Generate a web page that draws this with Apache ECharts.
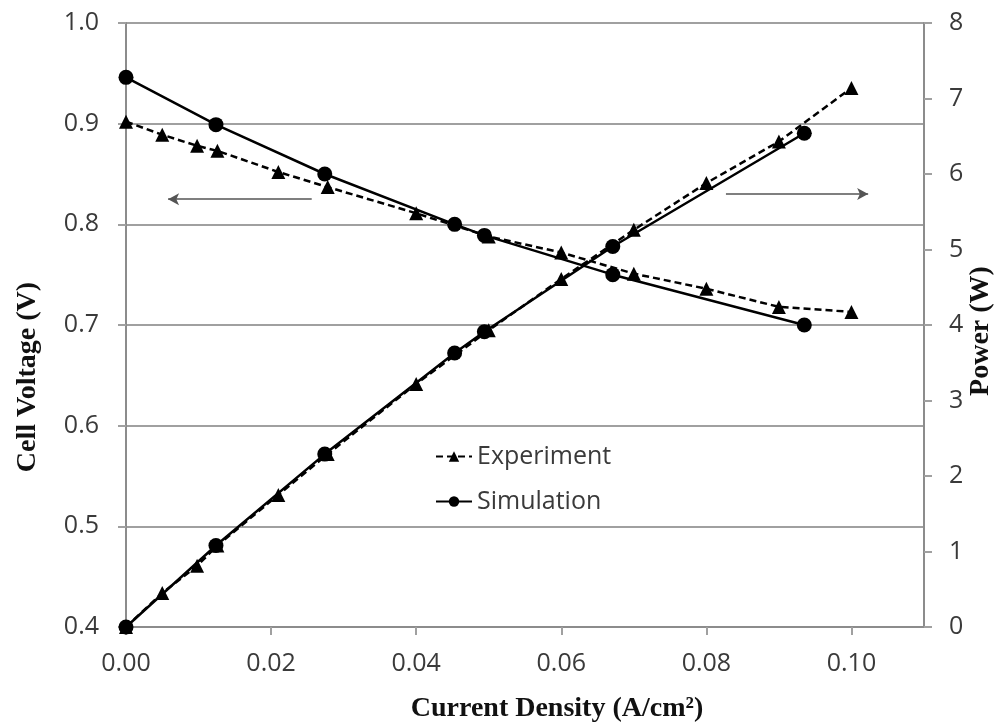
<!DOCTYPE html>
<html>
<head>
<meta charset="utf-8">
<title>Cell voltage and power vs current density</title>
<script src="https://cdn.jsdelivr.net/npm/echarts/dist/echarts.min.js"></script>
<style>
  html, body { margin: 0; padding: 0; background: #fff; }
  #chart { width: 995px; height: 726px; }
</style>
</head>
<body>
<div id="chart"></div>
<script>
// experiment points (triangles, dashed)
const currentExp = [0, 0.005, 0.0098, 0.0126, 0.021, 0.0278, 0.04, 0.05, 0.06, 0.07, 0.08, 0.09, 0.10];
const voltageExp = [0.902, 0.889, 0.878, 0.873, 0.852, 0.837, 0.811, 0.788, 0.772, 0.751, 0.736, 0.718, 0.713];
const powerExp = [0, 0.45, 0.81, 1.08, 1.75, 2.29, 3.22, 3.93, 4.61, 5.26, 5.88, 6.43, 7.14];

// simulation points (circles, solid)
const currentSim = [0, 0.0124, 0.0274, 0.0453, 0.0494, 0.0671, 0.0935];
const voltageSim = [0.946, 0.899, 0.850, 0.800, 0.789, 0.750, 0.700];
const powerSim = [0, 1.08, 2.29, 3.63, 3.91, 5.04, 6.54];

// arrows telling which axis each curve family belongs to
const voltageArrow = [[0.0256, 0.825], [0.0058, 0.825]];
const powerArrow = [[0.0827, 5.735], [0.1023, 5.735]];

const labelFont = { fontFamily: '"Open Sans"', fontSize: 25, color: '#3a3a3a' };
const titleFont = 'bold 28px "Liberation Serif"';

function pairs(xs, ys) {
    return xs.map((x, i) => [x, ys[i]]);
}

function arrowLine(pts) {
    return {
        silent: true,
        symbol: ['none', 'arrow'],
        symbolSize: [9, 11],
        label: { show: false },
        lineStyle: { color: '#555', width: 1.5, type: 'solid' },
        data: [[{ coord: pts[0] }, { coord: pts[1] }]]
    };
}

const expStyle = {
    type: 'line',
    name: 'Experiment',
    symbol: 'triangle',
    symbolSize: 14,
    itemStyle: { color: '#000' },
    lineStyle: { color: '#000', width: 2.5, type: [7, 4] }
};
const simStyle = {
    type: 'line',
    name: 'Simulation',
    symbol: 'circle',
    symbolSize: 15,
    itemStyle: { color: '#000' },
    lineStyle: { color: '#000', width: 2.5, type: 'solid' }
};

const chart = echarts.init(document.getElementById('chart'));
chart.setOption({
    animation: false,
    grid: { left: 126, right: 71, top: 23, bottom: 99 },
    legend: {
        data: ['Experiment', 'Simulation'],
        orient: 'vertical',
        left: 435,
        top: 444,
        padding: 0,
        itemWidth: 36,
        itemHeight: 13,
        itemGap: 20,
        textStyle: labelFont
    },
    xAxis: {
        type: 'value',
        min: 0,
        max: 0.11,
        interval: 0.02,
        axisLine: { lineStyle: { color: '#8c8c8c', width: 2 } },
        axisTick: { show: true, length: 8, lineStyle: { color: '#a0a0a0', width: 2 } },
        splitLine: { show: false },
        axisLabel: Object.assign({
            margin: 24,
            showMaxLabel: false,
            formatter: v => Math.abs(v * 50 - Math.round(v * 50)) > 1e-6 ? '' : v.toFixed(2)
        }, labelFont)
    },
    yAxis: [
        {
            type: 'value',
            min: 0.4,
            max: 1.0,
            interval: 0.1,
            axisLine: { show: true, lineStyle: { color: '#8c8c8c', width: 2 } },
            axisTick: { show: true, length: 8, lineStyle: { color: '#a0a0a0', width: 2 } },
            splitLine: { show: true, lineStyle: { color: '#a0a0a0', width: 2 } },
            axisLabel: Object.assign({ margin: 27, formatter: v => v.toFixed(1) }, labelFont)
        },
        {
            type: 'value',
            min: 0,
            max: 8,
            interval: 1,
            position: 'right',
            axisLine: { show: true, lineStyle: { color: '#8c8c8c', width: 2 } },
            axisTick: { show: true, length: 8, lineStyle: { color: '#a0a0a0', width: 2 } },
            splitLine: { show: false },
            axisLabel: Object.assign({ margin: 25 }, labelFont)
        }
    ],
    series: [
        Object.assign({}, expStyle, {
            yAxisIndex: 0,
            data: pairs(currentExp, voltageExp),
            markLine: arrowLine(voltageArrow)
        }),
        Object.assign({}, simStyle, { yAxisIndex: 0, data: pairs(currentSim, voltageSim) }),
        Object.assign({}, expStyle, {
            yAxisIndex: 1,
            data: pairs(currentExp, powerExp),
            markLine: arrowLine(powerArrow)
        }),
        Object.assign({}, simStyle, { yAxisIndex: 1, data: pairs(currentSim, powerSim) })
    ],
    graphic: [
        {
            type: 'text', x: 28, y: 377, rotation: Math.PI / 2,
            style: { text: 'Cell Voltage (V)', font: titleFont, fill: '#111', align: 'center', verticalAlign: 'middle' }
        },
        {
            type: 'text', x: 981, y: 331, rotation: Math.PI / 2,
            style: { text: 'Power (W)', font: titleFont, fill: '#111', align: 'center', verticalAlign: 'middle' }
        },
        {
            type: 'text', x: 557, y: 709,
            style: { text: 'Current Density (A/cm²)', font: titleFont, fill: '#111', align: 'center', verticalAlign: 'middle' }
        }
    ]
});
</script>
</body>
</html>
